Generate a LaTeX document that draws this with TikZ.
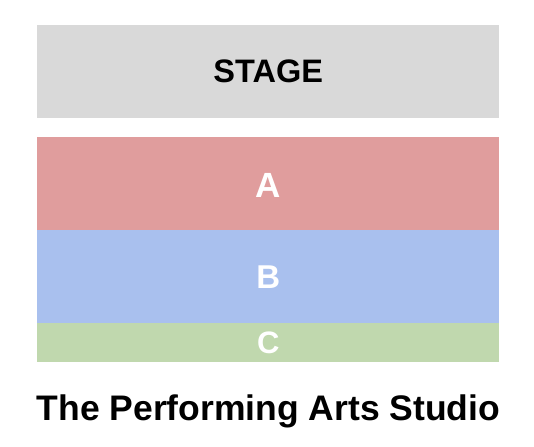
\documentclass[tikz,border=0pt]{standalone}
\usepackage{fontspec}
\setmainfont{Liberation Sans}
\definecolor{stagegray}{RGB}{217,217,217}
\definecolor{secA}{RGB}{224,157,157}
\definecolor{secB}{RGB}{169,192,238}
\definecolor{secC}{RGB}{192,216,174}
\begin{document}
\begin{tikzpicture}[x=1pt,y=-1pt,
  block/.style={draw=none,minimum width=462pt,inner sep=0pt,anchor=north west},
  lbl/.style={font=\bfseries\fontsize{33}{33}\selectfont,text=white,inner sep=0pt}]
\useasboundingbox (0,0) rectangle (534,446);
\node[block,fill=stagegray,minimum height=93pt] (stage) at (37,25) {};
\node[block,fill=secA,minimum height=93pt] (a) at (37,137) {};
\node[block,fill=secB,minimum height=93pt] (b) at (37,230) {};
\node[block,fill=secC,minimum height=39pt] (c) at (37,323) {};
\node[font=\bfseries\fontsize{32.5}{32.5}\selectfont,inner sep=0pt] (stagelbl) at (stage.center) {STAGE};
\node[lbl,font=\bfseries\fontsize{35}{35}\selectfont] (albl) at ([yshift=-1.5pt]a.center) {A};
\node[lbl] (blbl) at (b.center) {B};
\node[lbl,font=\bfseries\fontsize{31}{31}\selectfont] (clbl) at (c.center) {C};
\node[font=\bfseries\fontsize{35.5}{35.5}\selectfont,inner sep=0pt,anchor=base] (title) at (268.5,420) {The Performing Arts Studio};
\end{tikzpicture}
\end{document}
